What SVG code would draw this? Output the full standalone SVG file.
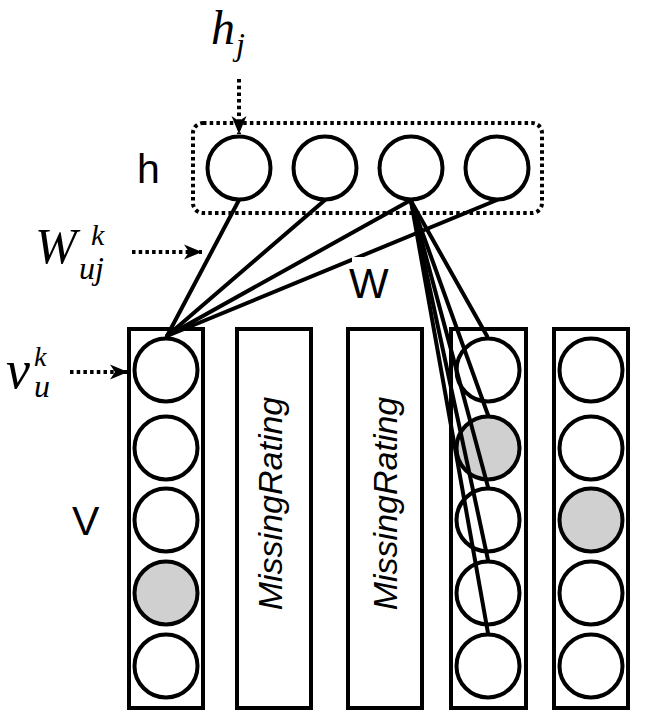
<svg xmlns="http://www.w3.org/2000/svg" width="645" height="723" viewBox="0 0 645 723">
<style>
.n{fill:#fff;stroke:#000;stroke-width:4}
.g{fill:#d0d0d0;stroke:#000;stroke-width:4}
.col{fill:#fff;stroke:#000;stroke-width:4}
.c{stroke:#000;stroke-width:4;fill:none;stroke-linecap:round}
.d{stroke:#000;stroke-width:4;fill:none;stroke-dasharray:3.5 3.2}
.sans{font-family:'Liberation Sans',Arial,sans-serif;fill:#000}
.math{font-family:'Liberation Serif','Times New Roman',serif;font-style:italic;fill:#000}
</style>
<defs>
<marker id="ah" markerUnits="userSpaceOnUse" markerWidth="20" markerHeight="17" refX="18" refY="8.5" orient="auto">
<path d="M0,1 L18,8.5 L0,16 L5,8.5 z" fill="#000"/>
</marker>
</defs>
<rect x="0" y="0" width="645" height="723" fill="#fff"/>

<g id="hidden-layer">
<rect x="193" y="123" width="349" height="90" rx="10" class="d"/>
<text class="sans" x="137" y="183" font-size="41">h</text>
</g>
<g id="h1"><circle class="n" cx="239" cy="168" r="31.5"/></g>
<g id="h2"><circle class="n" cx="325" cy="168" r="31.5"/></g>
<g id="h3"><circle class="n" cx="411" cy="168" r="31.5"/></g>
<g id="h4"><circle class="n" cx="497" cy="168" r="31.5"/></g>

<g id="v1">
<rect class="col" x="129" y="329" width="74" height="379"/>
<circle class="n" cx="166" cy="370" r="31.5"/>
<circle class="n" cx="166" cy="448" r="31.5"/>
<circle class="n" cx="166" cy="520" r="31.5"/>
<circle class="g" cx="166" cy="593" r="31.5"/>
<circle class="n" cx="166" cy="666" r="31.5"/>
</g>
<g id="v2">
<rect class="col" x="237" y="329" width="74" height="379"/>
<text class="sans" font-style="italic" font-size="34" text-anchor="middle" transform="translate(282,503.5) rotate(-90)">MissingRating</text>
</g>
<g id="v3">
<rect class="col" x="348" y="329" width="74" height="379"/>
<text class="sans" font-style="italic" font-size="34" text-anchor="middle" transform="translate(397,503.5) rotate(-90)">MissingRating</text>
</g>
<g id="v4">
<rect class="col" x="451" y="329" width="75" height="379"/>
<circle class="n" cx="488" cy="370" r="31.5"/>
<circle class="g" cx="488" cy="448" r="31.5"/>
<circle class="n" cx="488" cy="520" r="31.5"/>
<circle class="n" cx="488" cy="593" r="31.5"/>
<circle class="n" cx="488" cy="666" r="31.5"/>
</g>
<g id="v5">
<rect class="col" x="554" y="329" width="74" height="379"/>
<circle class="n" cx="591" cy="370" r="31.5"/>
<circle class="n" cx="591" cy="448" r="31.5"/>
<circle class="g" cx="591" cy="520" r="31.5"/>
<circle class="n" cx="591" cy="593" r="31.5"/>
<circle class="n" cx="591" cy="666" r="31.5"/>
</g>
<g id="V-label"><text class="sans" x="72" y="535" font-size="41">V</text></g>

<g id="connectors">
<line class="c" x1="239" y1="200" x2="167" y2="336"/>
<line class="c" x1="325" y1="200" x2="167" y2="336"/>
<line class="c" x1="411" y1="200" x2="167" y2="336"/>
<line class="c" x1="497" y1="200" x2="167" y2="336"/>
<line class="c" x1="411" y1="201" x2="487" y2="336"/>
<line class="c" x1="411" y1="201" x2="488" y2="415"/>
<line class="c" x1="411" y1="201" x2="488" y2="487"/>
<line class="c" x1="411" y1="201" x2="488" y2="560"/>
<line class="c" x1="411" y1="201" x2="488" y2="633"/>
<line class="d" x1="239" y1="79" x2="239" y2="134" marker-end="url(#ah)"/>
<line class="d" x1="132" y1="252" x2="202" y2="252" marker-end="url(#ah)"/>
<line class="d" x1="70" y1="372" x2="128" y2="372" marker-end="url(#ah)"/>
</g>

<g id="W-label">
<rect x="352" y="257" width="40" height="44" fill="#fff"/>
<text class="sans" x="349" y="298" font-size="42">W</text>
</g>
<g id="hj-label">
<text class="math" x="211" y="44" font-size="48">h</text>
<text class="math" x="236" y="55" font-size="32">j</text>
</g>
<g id="Wujk-label">
<text class="math" x="35" y="263" font-size="50">W</text>
<text class="math" x="91" y="245" font-size="30">k</text>
<text class="math" x="79" y="279" font-size="32">uj</text>
</g>
<g id="vuk-label">
<text class="math" x="6" y="388" font-size="54">v</text>
<text class="math" x="34" y="366" font-size="28">k</text>
<text class="math" x="34" y="397" font-size="32">u</text>
</g>
</svg>
